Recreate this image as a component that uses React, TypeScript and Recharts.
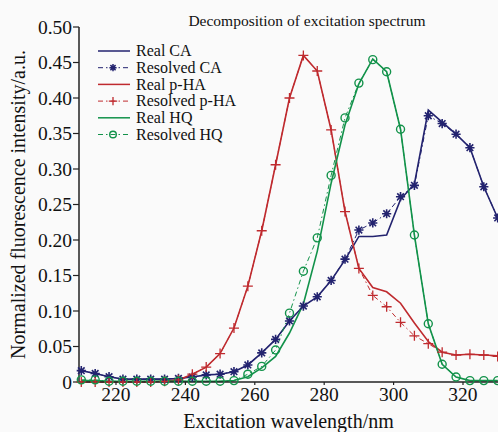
import React from 'react';
import { LineChart, Line, XAxis, YAxis, Legend, Label } from 'recharts';

const wavelengths = [210, 214, 218, 222, 226, 230, 234, 238, 242, 246, 250, 254, 258, 262, 266, 270, 274, 278, 282, 286, 290, 294, 298, 302, 306, 310, 314, 318, 322, 326, 330];

const caReal = [0.016, 0.012, 0.0075, 0.004, 0.004, 0.004, 0.004, 0.005, 0.007, 0.010, 0.011, 0.0145, 0.024, 0.041, 0.060, 0.086, 0.107, 0.120, 0.143, 0.172, 0.205, 0.205, 0.207, 0.257, 0.279, 0.383, 0.366, 0.349, 0.330, 0.275, 0.231];
const caResolved = [0.016, 0.012, 0.0075, 0.004, 0.004, 0.004, 0.004, 0.005, 0.007, 0.010, 0.011, 0.0145, 0.024, 0.041, 0.060, 0.086, 0.107, 0.120, 0.143, 0.173, 0.214, 0.224, 0.237, 0.261, 0.277, 0.375, 0.364, 0.349, 0.330, 0.275, 0.231];

const phaReal = [0, 0, 0, 0, 0, 0, 0.001, 0.003, 0.011, 0.021, 0.040, 0.076, 0.135, 0.213, 0.306, 0.400, 0.460, 0.438, 0.355, 0.240, 0.160, 0.133, 0.127, 0.111, 0.083, 0.057, 0.042, 0.038, 0.039, 0.038, 0.037];
const phaResolved = [0, 0, 0, 0, 0, 0, 0.001, 0.003, 0.011, 0.021, 0.040, 0.076, 0.135, 0.213, 0.306, 0.400, 0.460, 0.438, 0.355, 0.240, 0.160, 0.122, 0.106, 0.084, 0.065, 0.054, 0.042, 0.038, 0.039, 0.038, 0.036];

const hqReal = [0.002, 0.002, 0.001, 0.001, 0.001, 0.001, 0.001, 0.001, 0.001, 0.001, 0.001, 0.002, 0.0075, 0.020, 0.036, 0.069, 0.110, 0.184, 0.280, 0.362, 0.420, 0.455, 0.437, 0.356, 0.207, 0.082, 0.025, 0.007, 0.002, 0.002, 0.002];
const hqResolved = [0.003, 0.003, 0.001, 0.001, 0.001, 0.001, 0.001, 0.001, 0.001, 0.001, 0.001, 0.002, 0.011, 0.022, 0.045, 0.097, 0.156, 0.203, 0.291, 0.372, 0.421, 0.454, 0.437, 0.356, 0.207, 0.082, 0.025, 0.007, 0.002, 0.002, 0.002];

const xTicks = [220, 240, 260, 280, 300, 320];
const yTicks = [0, 0.05, 0.1, 0.15, 0.2, 0.25, 0.3, 0.35, 0.4, 0.45, 0.5];
const seriesNames = ['Real CA', 'Resolved CA', 'Real p-HA', 'Resolved p-HA', 'Real HQ', 'Resolved HQ'];
const chartTitle = 'Decomposition of excitation spectrum';
const xTitle = 'Excitation wavelength/nm';
const yTitle = 'Normalized fluorescence intensity/a.u.';

const data = wavelengths.map((w, i) => ({
  w,
  caReal: caReal[i],
  caResolved: caResolved[i],
  phaReal: phaReal[i],
  phaResolved: phaResolved[i],
  hqReal: hqReal[i],
  hqResolved: hqResolved[i],
}));

const BLUE = '#23236f';
const RED = '#bf2a2e';
const GREEN = '#12924a';
const FONT = '"Liberation Serif", "DejaVu Serif", serif';
const DASH = '5 3 1.5 3';

const starPath = (cx: number, cy: number, r: number) => {
  const d = r * 0.72;
  return `M${cx - r},${cy}L${cx + r},${cy}M${cx},${cy - r}L${cx},${cy + r}M${cx - d},${cy - d}L${cx + d},${cy + d}M${cx - d},${cy + d}L${cx + d},${cy - d}`;
};
const plusPath = (cx: number, cy: number, r: number) =>
  `M${cx - r},${cy}L${cx + r},${cy}M${cx},${cy - r}L${cx},${cy + r}`;

const StarDot = (props: any) => {
  const { cx, cy, index } = props;
  if (cx == null || cy == null) return <g key={`s${index}`} />;
  return <path key={`s${index}`} d={starPath(cx, cy, 4.6)} stroke={BLUE} strokeWidth={1.6} fill="none" />;
};
const PlusDot = (props: any) => {
  const { cx, cy, index } = props;
  if (cx == null || cy == null) return <g key={`p${index}`} />;
  return <path key={`p${index}`} d={plusPath(cx, cy, 5)} stroke={RED} strokeWidth={1.3} fill="none" />;
};
const CircleDot = (props: any) => {
  const { cx, cy, index } = props;
  if (cx == null || cy == null) return <g key={`c${index}`} />;
  return <circle key={`c${index}`} cx={cx} cy={cy} r={4} stroke={GREEN} strokeWidth={1.4} fill="none" />;
};

const legendItems = [
  { name: seriesNames[0], color: BLUE, dashed: false, marker: 'none' },
  { name: seriesNames[1], color: BLUE, dashed: true, marker: 'star' },
  { name: seriesNames[2], color: RED, dashed: false, marker: 'none' },
  { name: seriesNames[3], color: RED, dashed: true, marker: 'plus' },
  { name: seriesNames[4], color: GREEN, dashed: false, marker: 'none' },
  { name: seriesNames[5], color: GREEN, dashed: true, marker: 'circle' },
];

const LegendContent = () => (
  <svg width={180} height={100} style={{ display: 'block', overflow: 'visible' }}>
    {legendItems.map((it, i) => {
      const y = 7 + i * 16.7;
      return (
        <g key={it.name}>
          <line x1={3} x2={35} y1={y} y2={y} stroke={it.color} strokeWidth={it.dashed ? 1 : 1.5} strokeDasharray={it.dashed ? DASH : undefined} />
          {it.marker === 'star' && <path d={starPath(18, y, 3.6)} stroke={it.color} strokeWidth={1.5} fill="none" />}
          {it.marker === 'plus' && <path d={plusPath(18, y, 4.2)} stroke={it.color} strokeWidth={1.3} fill="none" />}
          {it.marker === 'circle' && <circle cx={18} cy={y} r={3.3} stroke={it.color} strokeWidth={1.4} fill="none" />}
          <text x={41} y={y + 5.3} fontFamily={FONT} fontSize={16} fill="#111">{it.name}</text>
        </g>
      );
    })}
  </svg>
);

const YLabel = (props: any) => {
  const vb = props.viewBox || { x: 0, y: 27, width: 79, height: 355 };
  const cx = vb.x + 18;
  const cy = vb.y + vb.height / 2;
  return (
    <text x={cx} y={cy} transform={`rotate(-90 ${cx} ${cy})`} textAnchor="middle" dominantBaseline="central" fontFamily={FONT} fontSize={20} fill="#111">
      {yTitle}
    </text>
  );
};
const XLabel = (props: any) => {
  const vb = props.viewBox || { x: 79, y: 382, width: 419, height: 50 };
  return (
    <text x={vb.x + vb.width / 2} y={vb.y + 46} textAnchor="middle" fontFamily={FONT} fontSize={20} fill="#111">
      {xTitle}
    </text>
  );
};

export default function App() {
  return (
    <div style={{ position: 'absolute', left: 0, top: 0, width: 498, height: 432, background: '#fafafa', overflow: 'hidden' }}>
      <LineChart width={498} height={432} data={data} margin={{ top: 27, right: 0, bottom: 0, left: 0 }}>
        <XAxis
          dataKey="w"
          type="number"
          domain={[209.34, 330.09]}
          ticks={xTicks}
          interval={0}
          height={50}
          tickSize={3}
          tickMargin={2}
          axisLine={{ stroke: '#222', strokeWidth: 1.5 }}
          tickLine={{ stroke: '#222', strokeWidth: 1.2 }}
          tick={{ fill: '#111', fontFamily: FONT, fontSize: 19.5 }}
        >
          <Label content={XLabel} />
        </XAxis>
        <YAxis
          type="number"
          domain={[0, 0.5]}
          ticks={yTicks}
          interval={0}
          width={79}
          tickSize={6}
          tickMargin={1}
          tickFormatter={(v: number) => (v === 0 ? '0' : v.toFixed(2))}
          axisLine={{ stroke: '#222', strokeWidth: 1.5 }}
          tickLine={{ stroke: '#222', strokeWidth: 1.2 }}
          tick={{ fill: '#111', fontFamily: FONT, fontSize: 19.5 }}
        >
          <Label content={YLabel} />
        </YAxis>
        <Legend
          layout="vertical"
          align="center"
          verticalAlign="middle"
          content={LegendContent}
          wrapperStyle={{ position: 'absolute', left: 95, top: 44, width: 180, height: 100 }}
        />
        <Line dataKey="caReal" name={seriesNames[0]} stroke={BLUE} strokeWidth={1.6} dot={false} isAnimationActive={false} legendType="none" />
        <Line dataKey="caResolved" name={seriesNames[1]} stroke={BLUE} strokeWidth={1} strokeDasharray={DASH} dot={StarDot} isAnimationActive={false} legendType="none" />
        <Line dataKey="phaReal" name={seriesNames[2]} stroke={RED} strokeWidth={1.6} dot={false} isAnimationActive={false} legendType="none" />
        <Line dataKey="phaResolved" name={seriesNames[3]} stroke={RED} strokeWidth={1} strokeDasharray={DASH} dot={PlusDot} isAnimationActive={false} legendType="none" />
        <Line dataKey="hqReal" name={seriesNames[4]} stroke={GREEN} strokeWidth={1.6} dot={false} isAnimationActive={false} legendType="none" />
        <Line dataKey="hqResolved" name={seriesNames[5]} stroke={GREEN} strokeWidth={1} strokeDasharray={DASH} dot={CircleDot} isAnimationActive={false} legendType="none" />
      </LineChart>
      <svg width={498} height={40} style={{ position: 'absolute', left: 0, top: 0, pointerEvents: 'none' }}>
        <text x={307} y={25.5} textAnchor="middle" fontFamily={FONT} fontSize={15.5} fill="#111">{chartTitle}</text>
      </svg>
    </div>
  );
}
